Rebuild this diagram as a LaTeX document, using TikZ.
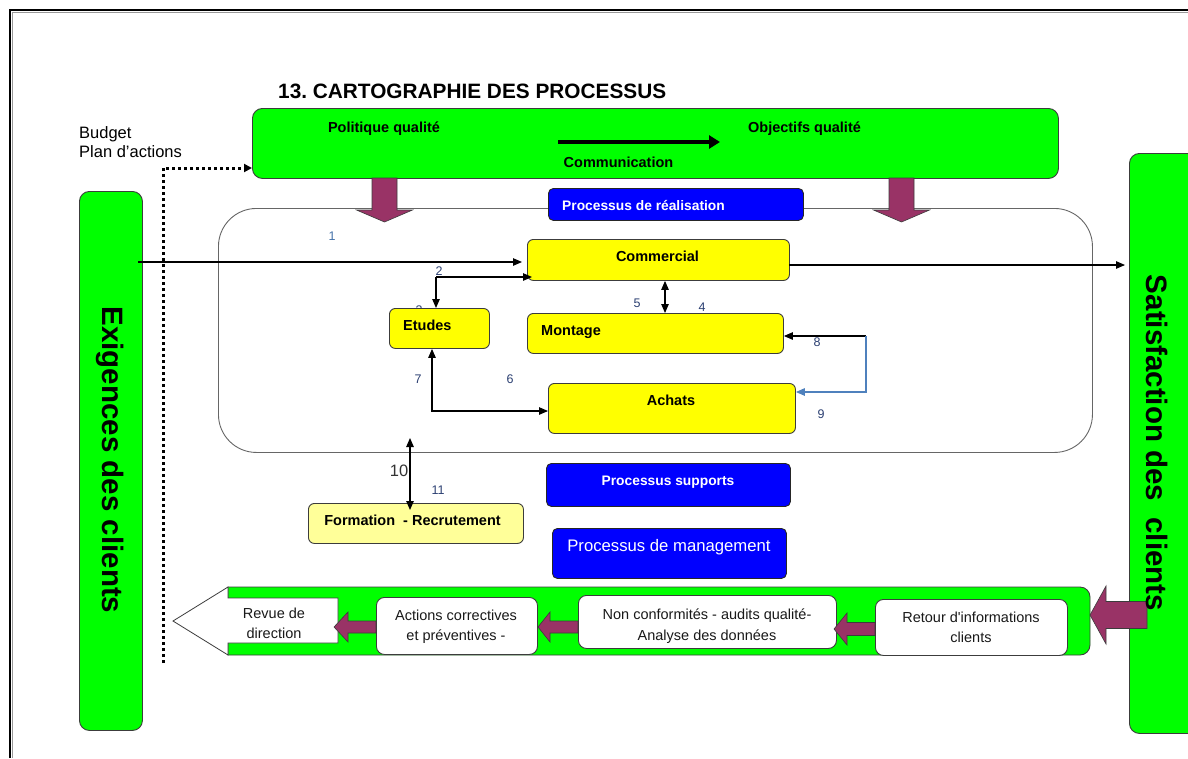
\documentclass[tikz,border=0pt]{standalone}
\usepackage{fontspec}
\setmainfont{Liberation Sans}
\usetikzlibrary{arrows.meta,calc}
\frenchspacing
\definecolor{vert}{RGB}{0,255,0}
\definecolor{jaune}{RGB}{255,255,0}
\definecolor{jaunep}{RGB}{255,255,153}
\definecolor{bleu}{RGB}{0,0,255}
\definecolor{bordeaux}{RGB}{153,51,102}
\definecolor{acier}{RGB}{79,129,189}
\definecolor{numc}{RGB}{45,65,115}
\definecolor{numl}{RGB}{70,115,170}
\definecolor{bord}{RGB}{60,60,60}
\newcommand\flecheG[6]{%
  \draw[maroonshape] (#1,#4) -- (#2,#4-#5) -- (#2,#4-#6) -- (#3,#4-#6) -- (#3,#4+#6) -- (#2,#4+#6) -- (#2,#4+#5) -- cycle;}
\newcommand\flecheB[2]{% centre x, tip y
  \draw[maroonshape] (#1-12.5,178) -- (#1+12.5,178) -- (#1+12.5,210) -- (#1+28,210) -- (#1,#2) -- (#1-28,210) -- (#1-12.5,210) -- cycle;}
\begin{document}
\begin{tikzpicture}[x=1pt,y=-1pt,
  box/.style={draw=bord, line width=0.9pt, inner sep=0pt, anchor=north west},
  greenbox/.style={box, fill=vert, rounded corners=10pt},
  ybox/.style={box, fill=jaune, rounded corners=6pt},
  bbox/.style={box, draw=black!85, fill=bleu, rounded corners=5pt},
  wbox/.style={box, fill=white, rounded corners=8pt},
  btxt/.style={font=\fontsize{14.5}{17}\selectfont\bfseries, inner sep=0pt},
  rtxt/.style={font=\fontsize{14.5}{17}\selectfont, text=black!90, inner sep=0pt},
  wtxt/.style={font=\fontsize{13.8}{17}\selectfont\bfseries, text=white, inner sep=0pt},
  num/.style={font=\fontsize{12.5}{14}\selectfont, text=numc, inner sep=0pt, anchor=base},
  arr/.style={line width=1.1pt, -{Triangle[length=9pt,width=7.5pt]}},
  darr/.style={line width=1.1pt, {Triangle[length=9pt,width=7.5pt]}-{Triangle[length=9pt,width=7.5pt]}},
  maroonshape/.style={fill=bordeaux, draw=bord, line width=0.6pt},
]
\useasboundingbox (0,0) rectangle (1188,758);
\fill[white] (0,0) rectangle (1188,758);
% frame
\draw[black!40, line width=1pt] (12.2,758) -- (12.2,12.2) -- (1188,12.2);
\draw[black, line width=1.3pt] (10,758) -- (10,10) -- (1188,10);

% title
\node[font=\fontsize{20.8}{24}\selectfont\bfseries, anchor=base west, inner sep=0pt] (titre) at (278,98.4) {13. CARTOGRAPHIE DES PROCESSUS};

% budget
\node[font=\fontsize{16.5}{19}\selectfont, anchor=base west, inner sep=0pt] (budget) at (79,138) {Budget};
\node[font=\fontsize{16.5}{19}\selectfont, anchor=base west, inner sep=0pt] (plan) at (79,157) {Plan d’actions};

% process zone
\node[box, draw=black!60, fill=white, rounded corners=38pt, minimum width=874pt, minimum height=244pt] (zone) at (218,208) {};

% top green box
\node[greenbox, minimum width=806pt, minimum height=70pt] (qual) at (252,108) {};
\node[btxt, anchor=base] (pol) at (384,132.5) {Politique qualité};
\node[btxt, anchor=base] (obj) at (804.5,132.2) {Objectifs qualité};
\node[btxt, anchor=base] (comm) at (618.5,167.2) {Communication};
\coordinate (c0) at (558,142);
\coordinate (c1) at (720,142);
\draw[line width=4pt, -{Triangle[length=11pt,width=13pt]}] (c0) -- (c1);

% dotted budget line
\coordinate (d0) at (163,663);
\coordinate (d1) at (163,168);
\draw[line width=3pt, dash pattern=on 3pt off 3pt, -{Triangle[length=8pt,width=8pt]}] (d0) -- (d1) -- (d1 -| qual.west);

% down maroon arrows
\flecheB{384.5}{222}
\flecheB{901.5}{222}

% side green boxes
\node[greenbox, minimum width=63pt, minimum height=539pt] (exig) at (79,191) {};
\node[rotate=-90, font=\fontsize{29.5}{32}\selectfont\bfseries, inner sep=0pt] (exigt) at (110.5,460) {Exigences des clients};
\node[greenbox, minimum width=70pt, minimum height=580pt] (sat) at (1129,153) {};

% blue realisation
\node[bbox, minimum width=255pt, minimum height=32pt] (real) at (548,188) {};
\node[wtxt, anchor=base west] (realt) at (562,210) {Processus de réalisation};

% label 3 behind Etudes
\node[num] (n3) at (419,314) {3};

% yellow boxes
\node[ybox, minimum width=262pt, minimum height=41pt] (com) at (527,239) {};
\node[btxt, anchor=base] (comt) at (657.5,261.2) {Commercial};
\node[ybox, minimum width=256pt, minimum height=40pt] (mon) at (527,313) {};
\node[btxt, anchor=base west] (mont) at (541,335.2) {Montage};
\node[ybox, minimum width=100pt, minimum height=40pt] (etu) at (389,308) {};
\node[btxt, anchor=base west] (etut) at (403,330) {Etudes};
\node[ybox, minimum width=247pt, minimum height=50pt] (ach) at (548,383) {};
\node[btxt, anchor=base] (acht) at (671,405.2) {Achats};

% connectors
\coordinate (e1) at (138,262);
\draw[arr, shorten >=5pt] (e1) -- (e1 -| com.west);
\coordinate (cr) at (789,265);
\draw[arr, shorten >=4pt] (cr) -- (cr -| sat.west);
\coordinate (j2) at (436,277);
\draw[arr] (j2) -- ($(j2 -| com.west)+(5,0)$);
\draw[arr] (j2) -- (j2 |- etu.north);
\coordinate (m4) at (665,0);
\draw[darr] (m4 |- com.south) -- (m4 |- mon.north);
\coordinate (k) at (432,411);
\draw[darr] (k |- etu.south) -- (k) -- (k -| ach.west);
\coordinate (r8) at (866,336);
\coordinate (r9) at (866,392);
\draw[arr] (r8) -- (r8 -| mon.east);
\draw[acier, line width=1.3pt, -{Triangle[length=9pt,width=7.5pt]}] (r8) -- (r9) -- (r9 -| ach.east);

% numbers
\node[num, text=numl] (n1) at (332,240) {1};
\node[num] (n2) at (439,275) {2};
\node[num] (n5) at (637,307) {5};
\node[num] (n4) at (702,311.5) {4};
\node[num] (n7) at (418,383.5) {7};
\node[num] (n6) at (510,383.5) {6};
\node[num] (n8) at (817,346.5) {8};
\node[num] (n9) at (821,418) {9};

% support / management
\node[bbox, minimum width=244pt, minimum height=43pt] (sup) at (546,463) {};
\node[wtxt, anchor=base] (supt) at (668,485) {Processus supports};
\node[bbox, minimum width=234pt, minimum height=50pt] (man) at (552,528) {};
\node[font=\fontsize{16.7}{19}\selectfont, text=white, inner sep=0pt, anchor=base] (mant) at (669,551) {Processus de management};

% formation
\node[box, fill=jaunep, rounded corners=6pt, minimum width=215pt, minimum height=40pt] (form) at (308,503) {};
\node[btxt, anchor=base] (formt) at (412.5,525.2) {Formation~~- Recrutement};
\coordinate (f) at (410,438);
\draw[darr] (f) -- ($(f |- form.north)+(0,7)$);
\node[font=\fontsize{16.5}{19}\selectfont, text=black!80, inner sep=0pt, anchor=base] (n10) at (399,476) {10};
\node[num] (n11) at (438,494.3) {11};

% bottom band
\draw[fill=vert, draw=bord, line width=0.9pt] (228,587) -- (1080,587) arc[start angle=-90, end angle=0, radius=10] -- (1090,645) arc[start angle=0, end angle=90, radius=10] -- (228,655) -- cycle;
\draw[fill=white, draw=bord, line width=0.8pt] (173,621) -- (228,587) -- (228,598) -- (338,598) -- (338,643) -- (228,643) -- (228,655) -- cycle;
\node[rtxt, anchor=base] (rev1) at (274,618.2) {Revue de};
\node[rtxt, anchor=base] (rev2) at (274,638.2) {direction};

\node[wbox, minimum width=161pt, minimum height=57pt] (act) at (376,597) {};
\node[rtxt, anchor=base] (act1) at (456,620.2) {Actions correctives};
\node[rtxt, anchor=base] (act2) at (456,640.2) {et préventives -};

\node[wbox, minimum width=258pt, minimum height=53pt] (nc) at (578,595) {};
\node[rtxt, anchor=base] (nc1) at (707,619.2) {Non conformités - audits qualité-};
\node[rtxt, anchor=base] (nc2) at (707,640.2) {Analyse des données};

\node[wbox, minimum width=192pt, minimum height=56pt] (ret) at (875,599) {};
\node[rtxt, anchor=base] (ret1) at (971,622.2) {Retour d\textquotesingle informations};
\node[rtxt, anchor=base] (ret2) at (971,642.2) {clients};

\flecheG{334}{348}{376}{627}{15}{6}
\flecheG{538}{550}{578}{627}{15}{6}
\flecheG{834}{847}{875}{629}{16}{6.5}
\flecheG{1090}{1106}{1147}{615}{29}{13.5}

\node[rotate=-90, font=\fontsize{29.5}{32}\selectfont\bfseries, inner sep=0pt] (satt) at (1157,443) {Satisfaction des\ \ clients};
\end{tikzpicture}
\end{document}
